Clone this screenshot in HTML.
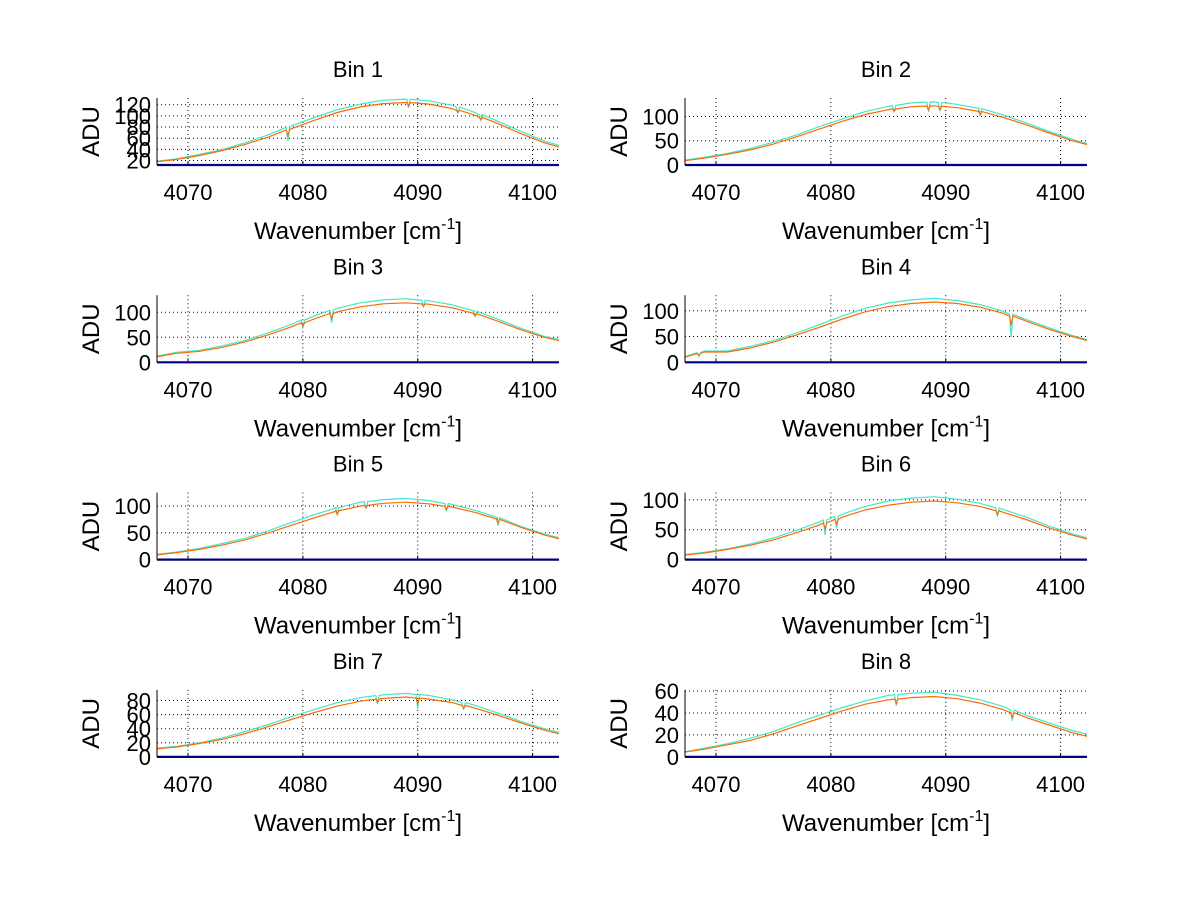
<!DOCTYPE html>
<html><head><meta charset="utf-8"><style>
body{margin:0;background:#fff}
svg text{font-family:"Liberation Sans",sans-serif;fill:#000}
</style></head><body>
<svg id="fig" width="1200" height="901" viewBox="0 0 1200 901"></svg>
<script>
const xs=[4067,4069,4071,4073,4075,4077,4079,4081,4083,4085,4087,4089,4091,4093,4095,4097,4099,4101,4103];
const xTicks=[4070,4080,4090,4100];
const binNames=["Bin 1","Bin 2","Bin 3","Bin 4","Bin 5","Bin 6","Bin 7","Bin 8"];
const orange1=[17,22,29,38,49,62,77,92,106,116,122,124,121,113,101,86,68,52,40];
const cyan1=[18,23,31,40,52,66,82,97,111,121,128,130,127,119,106,90,72,55,43];
const orange2=[8,14,22,31,43,58,74,90,104,114,120,122,118,110,98,83,66,50,38];
const cyan2=[9,16,24,34,47,62,79,95,110,121,128,130,125,116,103,87,69,53,40];
const orange3=[10,18,22,30,41,55,71,87,101,111,117,119,116,109,97,82,65,50,40];
const cyan3=[11,20,24,33,44,59,76,93,108,119,125,127,123,115,102,86,68,52,42];
const orange4=[8,20,20,28,39,53,68,84,98,108,114,117,114,107,95,80,64,50,38];
const cyan4=[9,22,22,31,42,57,73,90,105,115,121,124,120,112,99,83,67,52,40];
const orange5=[8,13,19,27,37,50,64,78,91,100,105,107,104,98,88,75,60,46,35];
const cyan5=[9,14,21,30,40,54,69,84,97,107,112,114,110,103,92,78,62,48,37];
const orange6=[7,11,17,24,33,45,58,71,83,91,96,98,95,89,79,67,53,41,31];
const cyan6=[8,12,18,26,36,49,63,76,89,98,103,105,101,94,84,71,56,43,33];
const orange7=[11,14,19,25,33,43,53,63,72,79,83,85,82,77,69,59,48,38,30];
const cyan7=[12,15,20,27,36,46,57,67,77,84,88,90,87,81,73,62,50,40,32];
const orange8=[4,7,11,15,21,28,35,42,48,52,54,55,53,49,43,36,29,22,17];
const cyan8=[4,8,12,17,23,31,38,45,51,56,58,59,56,52,46,38,31,24,19];
const dips1=[[4078.7,25],[4089.2,15],[4093.5,10],[4095.5,10]];
const dips2=[[4085.5,12],[4088.5,20],[4089.5,18],[4093,15]];
const dips3=[[4080,15],[4082.5,25],[4090.5,12],[4095,10]];
const dips4=[[4068.5,8],[4095.7,45]];
const dips5=[[4083,15],[4085.5,12],[4092.5,15],[4097,15]];
const dips6=[[4079.5,25],[4080.5,20],[4094.5,15]];
const dips7=[[4086.5,12],[4090,20],[4094,10]];
const dips8=[[4085.7,10],[4095.8,10]];
const yLims=[[12,132],[0,138],[0,134],[0,130],[0,125],[0,112],[0,95],[0,61]];
const yTicks=[[20,40,60,80,100,120],[0,50,100],[0,50,100],[0,50,100],[0,50,100],[0,50,100],[0,20,40,60,80],[0,20,40,60]];
const oranges=[orange1,orange2,orange3,orange4,orange5,orange6,orange7,orange8];
const cyans=[cyan1,cyan2,cyan3,cyan4,cyan5,cyan6,cyan7,cyan8];
const dips=[dips1,dips2,dips3,dips4,dips5,dips6,dips7,dips8];

const NS="http://www.w3.org/2000/svg";
const svg=document.getElementById('fig');
function mk(tag,attrs,parent){const e=document.createElementNS(NS,tag);for(const k in attrs)e.setAttribute(k,attrs[k]);(parent||svg).appendChild(e);return e;}
const X0=4067.3,X1=4102.3;
for(let i=0;i<8;i++){
  const col=i%2,row=Math.floor(i/2);
  const L=col?685:157,R=col?1087:559,B=165+row*197.3,T=B-67;
  const sx=v=>L+(v-X0)/(X1-X0)*(R-L);
  const [y0,y1]=yLims[i];
  const sy=v=>B-(v-y0)/(y1-y0)*(B-T);
  const g=mk('g',{});
  
  
  const cp=mk('clipPath',{id:'c'+i},g);mk('rect',{x:L,y:T-2,width:R-L,height:B-T+2},cp);
  xTicks.forEach(t=>{const l=mk('line',{x1:sx(t),x2:sx(t),y1:T,y2:B,stroke:'#000','stroke-width':1,'stroke-dasharray':'1,3'},g);
    
    const tx=mk('text',{x:sx(t),y:B+35,'font-size':22,'text-anchor':'middle'},g);tx.textContent=t;
    
    mk('line',{x1:sx(t),x2:sx(t),y1:B,y2:B-4,stroke:'#000'},g);});
  yTicks[i].forEach(t=>{const y=sy(t);
    const l=mk('line',{x1:L,x2:R,y1:y,y2:y,stroke:'#000','stroke-width':1,'stroke-dasharray':'1,3'},g);
    
    const tx=mk('text',{x:L-6,y:y+8,'font-size':22,'text-anchor':'end'},g);tx.textContent=t;
    });
  const pts=(arr,dp)=>{let p=arr.map((v,j)=>[xs[j],v]);
    dp.forEach(([dx,dd])=>{let j=p.findIndex(q=>q[0]>dx);if(j<1)return;
      const a=p[j-1],b=p[j];const base=a[1]+(b[1]-a[1])*(dx-a[0])/(b[0]-a[0]);
      p.splice(j,0,[dx-0.15,base],[dx,base-dd],[dx+0.15,base]);});
    return p.map(q=>sx(q[0]).toFixed(1)+','+sy(q[1]).toFixed(1)).join(' ');};
  const pc=mk('polyline',{points:pts(cyans[i],dips[i]),fill:'none',stroke:'#40e8c8','stroke-width':1.2,'clip-path':'url(#c'+i+')'},g);
  
  const po=mk('polyline',{points:pts(oranges[i],dips[i].map(d=>[d[0],d[1]*0.4])),fill:'none',stroke:'#ff6a00','stroke-width':1.2,'clip-path':'url(#c'+i+')'},g);
  
  const bl=mk('line',{x1:L,x2:R,y1:B,y2:B,stroke:'#00007f','stroke-width':2.2},g);
  
  const ax=mk('line',{x1:L,x2:L,y1:T,y2:B,stroke:'#000','stroke-width':1},g);
  
  const ti=mk('text',{x:(L+R)/2,y:T-21,'font-size':22,'text-anchor':'middle'},g);ti.textContent=binNames[i];
  
  const xl=mk('text',{x:(L+R)/2,y:B+74,'font-size':24,'text-anchor':'middle'},g);
  xl.innerHTML='Wavenumber [cm<tspan dy="-10" font-size="16">-1</tspan><tspan dy="10">]</tspan>';
  
  const yl=mk('text',{x:0,y:0,'font-size':24,'text-anchor':'middle',transform:`translate(${L-58},${(T+B)/2}) rotate(-90)`},g);yl.textContent='ADU';
  
}
</script>
</body></html>
